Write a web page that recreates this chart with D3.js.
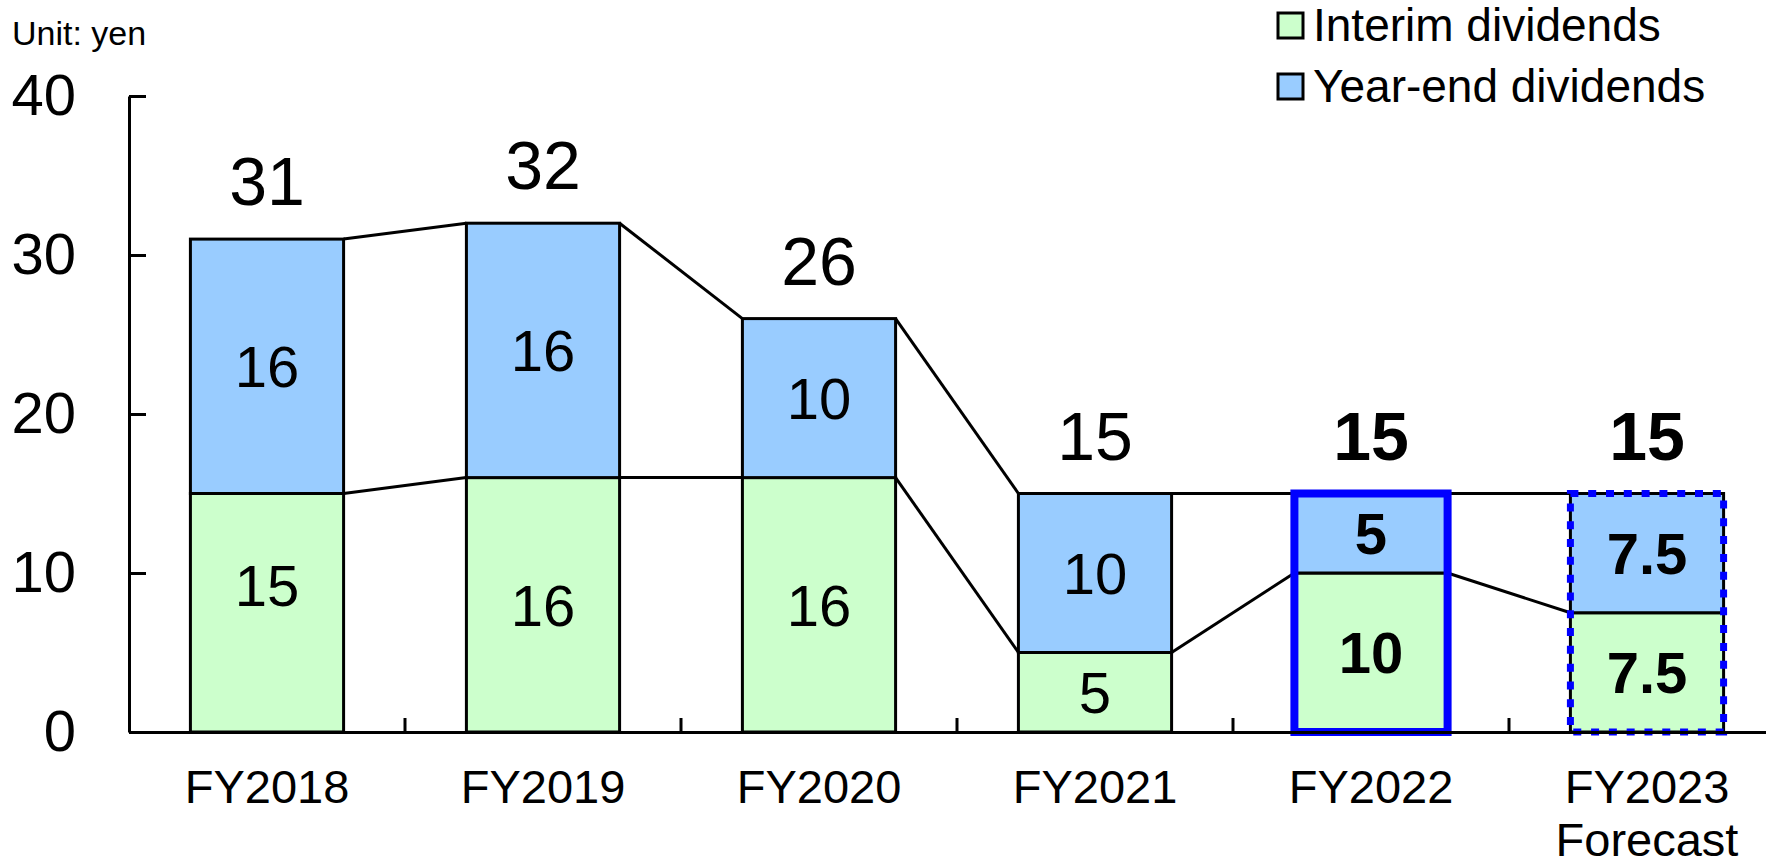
<!DOCTYPE html>
<html>
<head>
<meta charset="utf-8">
<script src="https://cdn.jsdelivr.net/npm/d3@7"></script>
<style>
  html, body { margin: 0; padding: 0; background: #fff; }
  svg { display: block; font-family: "Liberation Sans", Arial, Helvetica, sans-serif; }
</style>
</head>
<body>
<svg id="chart" width="1766" height="858"></svg>
<script>
// Dividends per share (yen), interim + year-end, stacked
const categories = ["FY2018", "FY2019", "FY2020", "FY2021", "FY2022", "FY2023"];
const categoryLines = [["FY2018"], ["FY2019"], ["FY2020"], ["FY2021"], ["FY2022"], ["FY2023", "Forecast"]];
const interim = [15, 16, 16, 5, 10, 7.5];
const yearEnd = [16, 16, 10, 10, 5, 7.5];
const totals = [31, 32, 26, 15, 15, 15];
const yTicks = [0, 10, 20, 30, 40];
// highlight style per year: "" none, "actual" solid frame, "forecast" dotted frame
const highlight = ["", "", "", "", "actual", "forecast"];
const seriesNames = ["Interim dividends", "Year-end dividends"];
const seriesColors = ["#CCFFCC", "#99CCFF"];

const svg = d3.select("#chart");
const plotLeft = 129, plotRight = 1785, plotTop = 96, plotBottom = 732;

const x = d3.scaleBand()
  .domain(categories)
  .range([plotLeft, plotRight])
  .paddingInner(0.445)
  .paddingOuter(0.2225);
const y = d3.scaleLinear().domain([0, 40]).range([plotBottom, plotTop]);

const rows = categories.map((c, i) => ({ cat: c, interim: interim[i], yearEnd: yearEnd[i] }));
const stacked = d3.stack().keys(["interim", "yearEnd"])(rows);
const bw = x.bandwidth();
const step = x.step();

// manual vertical nudge (px) for a segment label that sits off-centre
const labelNudge = { "interim|FY2018": -28 };

// connector lines between neighbouring bars at each stack level
const conn = svg.append("g").attr("stroke", "#000").attr("stroke-width", 3).attr("fill", "none");
stacked.forEach(layer => {
  for (let i = 0; i < categories.length - 1; i++) {
    conn.append("line")
      .attr("x1", x(categories[i]) + bw)
      .attr("x2", x(categories[i + 1]))
      .attr("y1", y(layer[i][1]))
      .attr("y2", y(layer[i + 1][1]));
  }
});

// stacked segments
stacked.forEach((layer, li) => {
  svg.append("g").selectAll("rect")
    .data(layer)
    .join("rect")
    .attr("x", d => x(d.data.cat))
    .attr("y", d => y(d[1]))
    .attr("width", bw)
    .attr("height", d => y(d[0]) - y(d[1]))
    .attr("fill", seriesColors[li])
    .attr("stroke", "#000")
    .attr("stroke-width", 3);
});

// highlight frames
categories.forEach((c, i) => {
  if (!highlight[i]) return;
  const fr = svg.append("rect")
    .attr("x", x(c))
    .attr("y", y(totals[i]))
    .attr("width", bw)
    .attr("height", y(0) - y(totals[i]))
    .attr("fill", "none")
    .attr("stroke", "#0000FF");
  if (highlight[i] === "actual") {
    fr.attr("stroke-width", 8);
  } else {
    fr.attr("stroke-width", 7).attr("stroke-dasharray", "8,9.8");
  }
});

// axes
const yAxis = d3.axisLeft(y).tickValues(yTicks).tickSizeInner(-17).tickSizeOuter(0).tickPadding(53);
const gy = svg.append("g").attr("transform", `translate(${plotLeft},0)`).call(yAxis);
gy.selectAll("path.domain").attr("stroke", "#000").attr("stroke-width", 3);
gy.selectAll(".tick line").attr("stroke", "#000").attr("stroke-width", 3);
gy.selectAll(".tick text").attr("font-size", 58).attr("fill", "#000")
  .attr("font-family", "Liberation Sans, Arial, sans-serif");

const xAxis = d3.axisBottom(x).tickSize(0).tickPadding(0).tickFormat(() => "");
const gx = svg.append("g").attr("transform", `translate(0,${plotBottom})`).call(xAxis);
gx.selectAll("path.domain").attr("stroke", "#000").attr("stroke-width", 3);
gx.selectAll(".tick text").each(function (d) {
  const i = categories.indexOf(d);
  const t = d3.select(this)
    .attr("dy", null)
    .attr("y", 71)
    .attr("font-size", 47)
    .attr("fill", "#000")
    .attr("font-family", "Liberation Sans, Arial, sans-serif");
  categoryLines[i].forEach((line, k) => {
    t.append("tspan").attr("x", 0).attr("dy", k === 0 ? 0 : 53).text(line);
  });
});
// separator ticks between categories
categories.slice(0, -1).forEach(c => {
  const bx = x(c) + bw + (step - bw) / 2;
  gx.append("line").attr("x1", bx).attr("x2", bx).attr("y1", 0).attr("y2", -14)
    .attr("stroke", "#000").attr("stroke-width", 3);
});

// segment value labels
stacked.forEach(layer => {
  svg.append("g").selectAll("text")
    .data(layer)
    .join("text")
    .attr("x", d => x(d.data.cat) + bw / 2)
    .attr("y", d => (y(d[0]) + y(d[1])) / 2 + (labelNudge[layer.key + "|" + d.data.cat] || 0))
    .attr("dy", "0.36em")
    .attr("text-anchor", "middle")
    .attr("font-size", 58)
    .attr("font-weight", (d, i) => highlight[i] ? "bold" : "normal")
    .attr("fill", "#000")
    .text(d => d[1] - d[0]);
});

// total labels above bars
svg.append("g").selectAll("text")
  .data(categories)
  .join("text")
  .attr("x", c => x(c) + bw / 2)
  .attr("y", (c, i) => y(totals[i]) - 34)
  .attr("text-anchor", "middle")
  .attr("font-size", 68)
  .attr("font-weight", (c, i) => highlight[i] ? "bold" : "normal")
  .attr("fill", "#000")
  .text((c, i) => totals[i]);

// unit note
svg.append("text").attr("x", 12).attr("y", 45).attr("font-size", 34).attr("fill", "#000").text("Unit: yen");

// legend
const lg = svg.append("g");
seriesNames.forEach((name, i) => {
  const row = lg.append("g").attr("transform", `translate(1278,${13 + i * 61})`);
  row.append("rect").attr("width", 25).attr("height", 25)
    .attr("fill", seriesColors[i]).attr("stroke", "#000").attr("stroke-width", 3);
  row.append("text").attr("x", 35).attr("y", 28).attr("font-size", 46).attr("fill", "#000").text(name);
});
</script>
</body>
</html>
